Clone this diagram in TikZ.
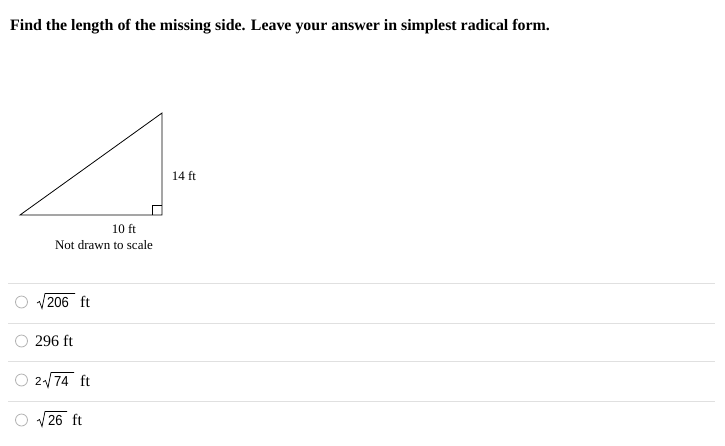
\documentclass[tikz,border=0pt]{standalone}
\usepackage{fontspec}
\setmainfont{Liberation Serif}
\newfontfamily\radfont{Liberation Sans}
\begin{document}
\begin{tikzpicture}[x=1pt,y=-1pt,
  lbl/.style={inner sep=0pt,font=\fontsize{13}{15}\selectfont},
  opt/.style={inner sep=0pt,anchor=base west,font=\fontsize{16}{18}\selectfont},
  rad/.style={inner sep=0pt,anchor=base west,font=\radfont\fontsize{14.5}{16}\selectfont},
  radio/.style={circle,draw=black!30,line width=0.8pt,minimum size=12pt,inner sep=0pt},
  sep/.style={draw=black!12,line width=1pt},
  radsign/.style={line width=0.7pt,line join=miter}]
\useasboundingbox (0,0) rectangle (725,445);
\fill[white] (0,0) rectangle (725,445);
% title
\node[anchor=base west,inner sep=0pt,font=\bfseries\fontsize{15.9}{19}\selectfont] (title) at (10,30)
  {Find the length of the missing side. Leave your answer in simplest radical form.};
% triangle
\coordinate (A) at (20,215);
\coordinate (B) at (162,215);
\coordinate (C) at (162,113);
\draw[line width=0.8pt] (A) -- (B) -- (C) -- cycle;
\draw[line width=0.8pt] (152,215) -- (152,205) -- (162,205);
\node[lbl] (h) at (184,176) {14 ft};
\node[lbl] (b) at (124,229) {10 ft};
\node[lbl] (note) at (104,245) {Not drawn to scale};
% separators
\foreach \y/\n in {283/s1,323/s2,361/s3,401/s4}
  \draw[sep] (8,\y) coordinate (\n a) -- (715,\y) coordinate (\n b);
% radio buttons
\node[radio] (r1) at (21.5,302) {};
\node[radio] (r2) at (21.5,341) {};
\node[radio] (r3) at (21.5,380) {};
\node[radio] (r4) at (21.5,420) {};
% option 1
\draw[radsign] (37,303) -- (39.5,301.5) -- (42,308.5) -- (45,293.5) -- (75,293.5);
\node[rad] (o1n) at (47,307.5) {\scalebox{0.9}[1]{206}};
\node[opt] (o1u) at (80,307) {ft};
% option 2
\node[opt] (o2) at (35,346) {296 ft};
% option 3
\node[rad] (o3c) at (35,385.5) {\scalebox{0.8}[0.8]{2}};
\draw[radsign] (43,382) -- (45.5,380.5) -- (48,387.5) -- (51,372.5) -- (74,372.5);
\node[rad] (o3n) at (54,386.5) {\scalebox{0.9}[1]{74}};
\node[opt] (o3u) at (80,386) {ft};
% option 4
\draw[radsign] (37,421) -- (39.5,419.5) -- (42,426.5) -- (45,411.5) -- (67,411.5);
\node[rad] (o4n) at (48,425.5) {\scalebox{0.9}[1]{26}};
\node[opt] (o4u) at (72,425) {ft};
\end{tikzpicture}
\end{document}
